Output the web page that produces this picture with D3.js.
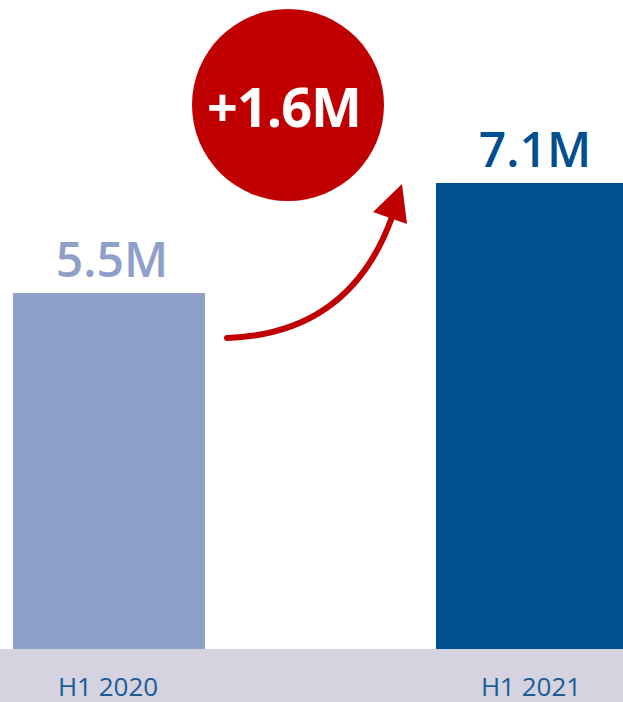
<!DOCTYPE html>
<html>
<head>
<meta charset="utf-8">
<script src="https://cdn.jsdelivr.net/npm/d3@7"></script>
<style>
  html, body { margin: 0; padding: 0; background: #fff; overflow: hidden; }
  svg { display: block; font-family: "Open Sans", sans-serif; }
</style>
</head>
<body>
<svg id="chart" width="623" height="702"></svg>
<script>
var categories = ['H1 2020', 'H1 2021'];
var values = [5.5, 7.1];
var valueLabels = ['5.5M', '7.1M'];
var deltaLabel = '+1.6M';
var barColors = ['#8fa0c8', '#004f8f'];

var width = 623, height = 702;
var bandTop = 649;
var svg = d3.select('#chart');

// bars are 192 wide, second one runs a little off the right edge
var x = d3.scaleBand()
  .domain(categories)
  .range([13, 628])
  .paddingInner(231 / 423)
  .paddingOuter(0);

// zero sits under the grey band
var y = d3.scaleLinear().domain([0, d3.max(values)]).range([671, 183]);

svg.selectAll('rect.bar')
  .data(values)
  .enter().append('rect')
  .attr('class', 'bar')
  .attr('x', function (d, i) { return x(categories[i]); })
  .attr('y', function (d) { return y(d); })
  .attr('width', x.bandwidth())
  .attr('height', function (d) { return y(0) - y(d); })
  .attr('fill', function (d, i) { return barColors[i]; });

svg.selectAll('text.value')
  .data(values)
  .enter().append('text')
  .attr('class', 'value')
  .attr('x', function (d, i) { return x(categories[i]) + x.bandwidth() / 2 + 3; })
  .attr('y', function (d) { return y(d) - 16; })
  .attr('text-anchor', 'middle')
  .attr('font-size', 48)
  .attr('font-weight', 600)
  .attr('fill', function (d, i) { return barColors[i]; })
  .text(function (d, i) { return valueLabels[i]; });

// grey category band
svg.append('rect')
  .attr('x', 0).attr('y', bandTop)
  .attr('width', width).attr('height', height - bandTop)
  .attr('fill', '#d4d3df');

var axis = d3.axisBottom(x).tickSize(0).tickPadding(0);
var axisG = svg.append('g')
  .attr('transform', 'translate(0,' + bandTop + ')')
  .call(axis);
axisG.select('.domain').remove();
axisG.selectAll('.tick').attr('transform', function (d) {
  return 'translate(' + (x(d) + x.bandwidth() / 2 - 1) + ',0)';
});
axisG.selectAll('text')
  .attr('dy', null)
  .attr('y', 47)
  .attr('font-family', '"Open Sans", sans-serif')
  .attr('font-size', 26)
  .attr('fill', '#1b5c98');

// change badge
var cx = 288, cy = 105;
svg.append('circle')
  .attr('cx', cx).attr('cy', cy).attr('r', 96)
  .attr('fill', '#c00000');
svg.append('text')
  .attr('x', cx - 4).attr('y', cy + 22)
  .attr('text-anchor', 'middle')
  .attr('font-size', 54)
  .attr('font-weight', 'bold')
  .attr('letter-spacing', -1)
  .attr('fill', '#fff')
  .text(deltaLabel);

// curved arrow from first bar up toward second
var x0 = x(categories[0]) + x.bandwidth() + 22;
var y0 = y(values[0]) + 45;
var x1 = x(categories[1]) - 44;
var y1 = y(values[1]) + 34;
var path = d3.path();
path.moveTo(x0, y0);
path.quadraticCurveTo(350, y0 - 4, x1, y1);
svg.append('path')
  .attr('d', path.toString())
  .attr('fill', 'none')
  .attr('stroke', '#c00000')
  .attr('stroke-width', 6)
  .attr('stroke-linecap', 'round');

svg.append('path')
  .attr('d', d3.line()([[x1 + 10, y(values[1]) + 1], [x1 - 19, y1 - 5], [x1 + 15, y1 + 7]]) + 'Z')
  .attr('fill', '#c00000');
</script>
</body>
</html>
